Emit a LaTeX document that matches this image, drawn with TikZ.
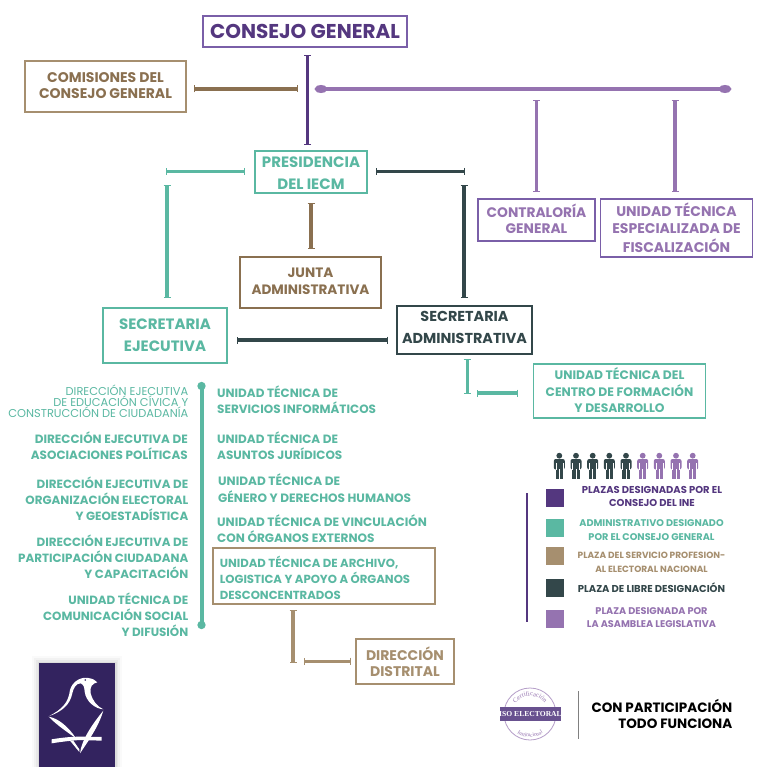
\documentclass[tikz,border=0pt]{standalone}
\usepackage{fontspec}
\setmainfont{Poppins}
\newfontfamily\serifx{Liberation Serif}
\usetikzlibrary{arrows.meta,decorations.text}
\definecolor{purpD}{HTML}{54377F}
\definecolor{purpB}{HTML}{7A5FA8}
\definecolor{purpL}{HTML}{9573B0}
\definecolor{teal}{HTML}{5AB8A2}
\definecolor{tan}{HTML}{8A7050}
\definecolor{tanL}{HTML}{A68F6F}
\definecolor{dark}{HTML}{33474A}
\definecolor{logoBg}{HTML}{33235F}
\newcommand{\fsz}[2]{\fontsize{#1pt}{#2pt}\selectfont\bfseries}
\newcommand{\upby}[2]{\vbox{\hbox{\begin{tabular}{@{}c@{}}#2\end{tabular}}\kern#1pt}}
\tikzset{
  x=1pt,y=-1pt,
  boxn/.style={draw=#1,line width=1.2pt,fill=white,inner sep=0pt,anchor=center},
  labl/.style={inner sep=0pt,align=center,text=#1},
  lablr/.style={inner sep=0pt,align=right,anchor=east,text=#1},
  labll/.style={inner sep=0pt,align=left,anchor=west,text=#1},
  lnk/.style={draw=#1,line width=3.5pt,{Bar[width=7pt,line width=1.2pt]}-{Bar[width=7pt,line width=1.2pt]}},
  lnkd/.style={draw=#1,line width=4pt,{Circle[length=8pt,width=8pt]}-{Circle[length=8pt,width=8pt]}},
  lnke/.style={draw=#1,line width=4pt,{Ellipse[length=12pt,width=8pt]}-{Ellipse[length=12pt,width=8pt]}},
  swatch/.style={fill=#1,inner sep=0pt,minimum width=18pt,minimum height=18pt},
  pics/person/.style={code={
    \fill[#1] (0,-10.3) circle (2.9pt);
    \fill[#1,rounded corners=2pt] (-5.5,-7) rectangle (5.5,3.5);
    \fill[#1] (-3.6,0) rectangle (3.6,13);
    \fill[white] (-0.3,3) rectangle (0.3,13);
    \fill[white] (-3.8,-3) rectangle (-3.4,3.6);
    \fill[white] (3.4,-3) rectangle (3.8,3.6);
  }},
}
\begin{document}
\begin{tikzpicture}
\useasboundingbox[fill=white] (0,0) rectangle (768,767);

% coordinates for free ends
\coordinate (c1a) at (307.5,55); \coordinate (c1b) at (307.5,145);
\coordinate (c2a) at (194,89); \coordinate (c2b) at (298,89);
\coordinate (c3a) at (315,89); \coordinate (c3b) at (731,89);
\coordinate (c4a) at (166,171.5); \coordinate (c4b) at (245,171.5);
\coordinate (c5a) at (167,185); \coordinate (c5b) at (167,298);
\coordinate (c6a) at (311,203); \coordinate (c6b) at (311,249);
\coordinate (c7a) at (376,171.5); \coordinate (c7b) at (465,171.5);
\coordinate (c8a) at (464,185); \coordinate (c8b) at (464,298);
\coordinate (c9a) at (237,340); \coordinate (c9b) at (388,340);
\coordinate (c10a) at (536.5,100); \coordinate (c10b) at (536.5,192);
\coordinate (c11a) at (675,100); \coordinate (c11b) at (675,192);
\coordinate (c12a) at (467,359); \coordinate (c12b) at (467,394);
\coordinate (c13a) at (477,393); \coordinate (c13b) at (518,393);
\coordinate (c14a) at (201.5,382); \coordinate (c14b) at (201.5,629);
\coordinate (c15a) at (293,610); \coordinate (c15b) at (293,663);
\coordinate (c16a) at (304,661); \coordinate (c16b) at (351,661);
\coordinate (c17a) at (527,493); \coordinate (c17b) at (527,622);

\draw[lnk=purpD] (c1a) -- (c1b);
\draw[lnk=tan] (c2a) -- (c2b);
\draw[lnke=purpL] (c3a) -- (c3b);
\draw[lnk=teal,line width=3pt] (c4a) -- (c4b);
\draw[lnk=teal] (c5a) -- (c5b);
\draw[lnk=tan] (c6a) -- (c6b);
\draw[lnk=dark,line width=3pt] (c7a) -- (c7b);
\draw[lnk=dark] (c8a) -- (c8b);
\draw[lnk=dark] (c9a) -- (c9b);
\draw[lnk=purpL] (c10a) -- (c10b);
\draw[lnk=purpL] (c11a) -- (c11b);
\draw[lnk=teal,line width=3pt] (c12a) -- (c12b);
\draw[lnk=teal] (c13a) -- (c13b);
\draw[lnkd=teal] (c14a) -- (c14b);
\draw[lnk=tanL] (c15a) -- (c15b);
\draw[lnk=tanL,line width=3pt] (c16a) -- (c16b);
\draw[purpD,line width=2pt] (c17a) -- (c17b);

% boxes
\node[boxn=purpB,minimum width=204pt,minimum height=31pt,text=purpD,font=\fsz{20}{24}] (cg) at (305,31.5) {CONSEJO GENERAL};
\node[boxn=tanL,minimum width=161pt,minimum height=51pt,text=tan,font=\fsz{14}{16}] (com) at (105.5,86.5) {\upby{-2}{COMISIONES DEL\\CONSEJO GENERAL}};
\node[boxn=teal,minimum width=112pt,minimum height=42pt,text=teal,font=\fsz{15}{21.5}] (pres) at (311,172) {\upby{-4}{PRESIDENCIA\\DEL IECM}};
\node[boxn=tan,minimum width=141pt,minimum height=51pt,text=tan,font=\fsz{13.6}{16.5}] (junta) at (310.5,282.5) {\upby{0}{JUNTA\\ADMINISTRATIVA}};
\node[boxn=teal,minimum width=124pt,minimum height=55pt,text=teal,font=\fsz{15}{22}] (se) at (165,335.5) {\upby{-1}{SECRETARIA\\EJECUTIVA}};
\node[boxn=dark,minimum width=135pt,minimum height=46pt,text=dark,font=\fsz{14.4}{22}] (sa) at (464.5,330) {\upby{4}{SECRETARIA\\ADMINISTRATIVA}};
\node[boxn=purpB,minimum width=117pt,minimum height=42pt,text=purpL,font=\fsz{13.8}{16.5}] (cont) at (536.5,220) {\upby{-2}{CONTRALORÍA\\GENERAL}};
\node[boxn=purpB,minimum width=152pt,minimum height=58pt,text=purpL,font=\fsz{14}{17}] (fisc) at (676.5,228) {\upby{-4}{UNIDAD TÉCNICA\\ESPECIALIZADA DE\\FISCALIZACIÓN}};
\node[boxn=teal,minimum width=172pt,minimum height=54pt,text=teal,font=\fsz{12.3}{16}] (cfd) at (619.5,391) {\upby{-3}{UNIDAD TÉCNICA DEL\\CENTRO DE FORMACIÓN\\Y DESARROLLO}};
\node[boxn=tanL,minimum width=222pt,minimum height=56pt,text=teal,font=\fsz{11.7}{16}] (arch) at (324,576) {\vbox{\hbox{\begin{tabular}{@{}l@{}}UNIDAD TÉCNICA DE ARCHIVO,\\LOGISTICA Y APOYO A ÓRGANOS\\DESCONCENTRADOS\end{tabular}\kern18pt}\kern-9pt}};
\node[boxn=tanL,minimum width=98pt,minimum height=45pt,text=tanL,font=\fsz{14}{16.5}] (dd) at (405,661.5) {\upby{-5}{DIRECCIÓN\\DISTRITAL}};

% left list
\node[lablr=teal,font={\fontsize{11.4}{11}\selectfont}] (l1) at (188.5,401) {DIRECCIÓN EJECUTIVA\\DE EDUCACIÓN CÍVICA Y\\CONSTRUCCIÓN DE CIUDADANÍA};
\node[lablr=teal,font=\fsz{12}{16}] (l2) at (188,445.5) {DIRECCIÓN EJECUTIVA DE\\ASOCIACIONES POLÍTICAS};
\node[lablr=teal,font=\fsz{11.9}{16}] (l3) at (188.5,498.5) {DIRECCIÓN EJECUTIVA DE\\ORGANIZACIÓN ELECTORAL\\Y GEOESTADÍSTICA};
\node[lablr=teal,font=\fsz{11.9}{16}] (l4) at (188.5,556.5) {DIRECCIÓN EJECUTIVA DE\\PARTICIPACIÓN CIUDADANA\\Y CAPACITACIÓN};
\node[lablr=teal,font=\fsz{11.9}{16}] (l5) at (188.5,614.5) {UNIDAD TÉCNICA DE\\COMUNICACIÓN SOCIAL\\Y DIFUSIÓN};
% right list
\node[labll=teal,font=\fsz{12}{16}] (r1) at (217,400) {UNIDAD TÉCNICA DE\\SERVICIOS INFORMÁTICOS};
\node[labll=teal,font=\fsz{12}{16}] (r2) at (217,445.5) {UNIDAD TÉCNICA DE\\ASUNTOS JURÍDICOS};
\node[labll=teal,font=\fsz{12.1}{17.5}] (r3) at (218,488) {UNIDAD TÉCNICA DE\\GÉNERO Y DERECHOS HUMANOS};
\node[labll=teal,font=\fsz{12.1}{16}] (r4) at (217,529) {UNIDAD TÉCNICA DE VINCULACIÓN\\CON ÓRGANOS EXTERNOS};

% people
\foreach \px/\col in {559.3/dark,576/dark,592.7/dark,609.3/dark,626/dark,642.7/purpL,659.3/purpL,676/purpL,692.7/purpL}
  \pic at (\px,466) {person=\col};

% legend
\node[swatch=purpD] (s1) at (555,498) {};
\node[swatch=teal] (s2) at (555,527.5) {};
\node[swatch=tanL] (s3) at (555,556) {};
\node[swatch=dark] (s4) at (555,588) {};
\node[swatch=purpL] (s5) at (555,618.5) {};
\node[labl=purpD,font=\fsz{10}{13.5}] (t1) at (652,496.5) {PLAZAS DESIGNADAS POR EL\\CONSEJO DEL INE};
\node[labl=teal,font=\fsz{9.7}{13.5}] (t2) at (651.5,530) {ADMINISTRATIVO DESIGNADO\\POR EL CONSEJO GENERAL};
\node[labl=tanL,font=\fsz{9}{13.5}] (t3) at (651.5,562.5) {PLAZA DEL SERVICIO PROFESION-\\AL ELECTORAL NACIONAL};
\node[labl=dark,font=\fsz{10}{13.5}] (t4) at (651.5,588) {PLAZA DE LIBRE DESIGNACIÓN};
\node[labl=purpL,font=\fsz{9.7}{13.5}] (t5) at (651.5,617.5) {PLAZA DESIGNADA POR\\LA ASAMBLEA LEGISLATIVA};

% logo
\foreach \g/\o in {7/0.02,5/0.03,3/0.04,1.5/0.05}
  \fill[black,opacity=\o] (39-\g,663-\g) rectangle (115+\g,767);
\fill[logoBg] (39,663) rectangle (115,767);
\begin{scope}[xshift=20pt,yshift=-650pt,x=0.3333pt,y=-0.3333pt]
\fill[white] (88,198) .. controls (125,178) and (145,160) .. (150,120) .. controls (158,92) and (185,80) .. (205,84) .. controls (218,86) and (226,90) .. (232,97)
  .. controls (218,100) and (208,110) .. (212,130) .. controls (216,150) and (232,170) .. (250,178)
  .. controls (225,176) and (198,155) .. (194,125) .. controls (193,112) and (192,105) .. (182,100) .. controls (168,100) and (160,115) .. (157,130) .. controls (150,165) and (125,185) .. (88,198) -- cycle;
\fill[white] (86,200) .. controls (115,205) and (145,230) .. (168,265) .. controls (140,245) and (110,225) .. (86,200) -- cycle;
\fill[white] (250,182) .. controls (240,215) and (225,245) .. (180,310) .. controls (185,270) and (215,225) .. (250,182) -- cycle;
\fill[white] (95,268) .. controls (130,262) and (160,260) .. (180,260) -- (245,261) -- (245,272) -- (180,270) .. controls (150,272) and (120,276) .. (95,280) -- cycle;
\fill[white] (150,272) -- (160,272) -- (178,298) -- (178,306) -- cycle;
\fill[logoBg] (196,90) circle (2.5);
\end{scope}

% seal
\draw[purpL!70,line width=0.8pt] (530,714) circle (26pt);
\path[decorate,decoration={text along path,text align=center,text={|\serifx\fontsize{6.5}{6.5}\selectfont\color{purpL}|Certificación}}] (514.4,705) .. controls (521.3,693) and (538.7,693) .. (545.6,705);
\path[decorate,decoration={text along path,text align=center,text={|\serifx\fontsize{5.5}{5.5}\selectfont\color{purpL}|Institucional}}] (512.4,728.8) .. controls (521.6,739.8) and (538.4,739.8) .. (547.6,728.8);
\fill[purpB!85!black] (500,707) rectangle (561,721);
\node[inner sep=0pt,text=white,font={\serifx\bfseries\fontsize{7.6}{9}\selectfont}] (iso) at (530.5,714) {ISO ELECTORAL};
\coordinate (sepA) at (578,691); \coordinate (sepB) at (578,739);
\draw[gray,line width=0.8pt] (sepA) -- (sepB);
\node[lablr=black,font=\fsz{13.5}{16}] (lema) at (732.5,714) {CON PARTICIPACIÓN\\TODO FUNCIONA};
\end{tikzpicture}
\end{document}
